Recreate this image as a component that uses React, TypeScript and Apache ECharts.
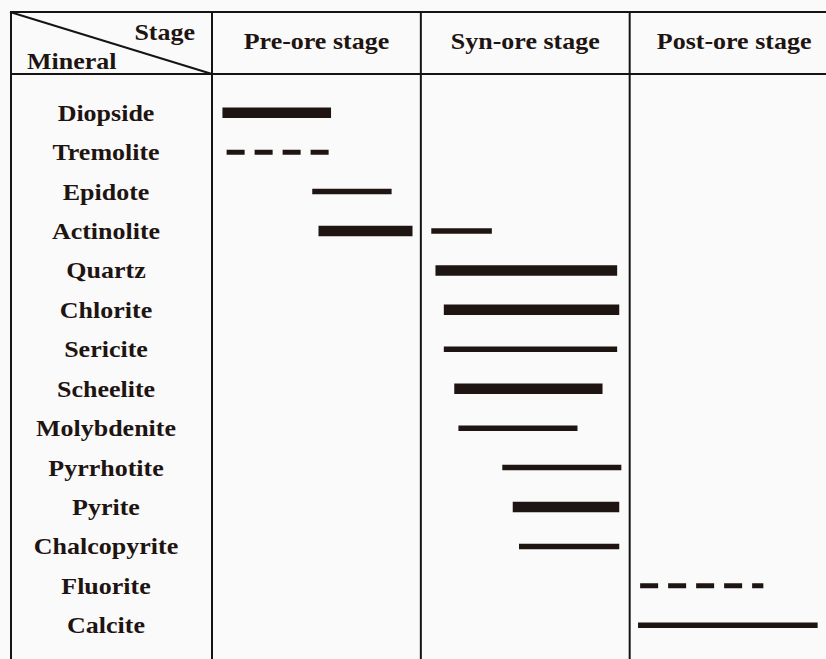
import React, { useEffect, useRef } from 'react';
import * as echarts from 'echarts';

// Minerals in paragenetic order (top to bottom)
const minerals = [
  'Diopside', 'Tremolite', 'Epidote', 'Actinolite', 'Quartz', 'Chlorite', 'Sericite',
  'Scheelite', 'Molybdenite', 'Pyrrhotite', 'Pyrite', 'Chalcopyrite', 'Fluorite', 'Calcite',
];

// Stages; the timeline runs in stage units: 0–1 pre-ore, 1–2 syn-ore, 2–3 post-ore
const stages = ['Pre-ore stage', 'Syn-ore stage', 'Post-ore stage'];

// Occurrence intervals of each mineral on the stage timeline
const spanMineral = [
  'Diopside', 'Tremolite', 'Epidote', 'Actinolite', 'Actinolite', 'Quartz', 'Chlorite',
  'Sericite', 'Scheelite', 'Molybdenite', 'Pyrrhotite', 'Pyrite', 'Chalcopyrite', 'Fluorite', 'Calcite',
];
const spanStart = [0.05, 0.07, 0.48, 0.51, 1.05, 1.07, 1.11, 1.11, 1.16, 1.18, 1.39, 1.44, 1.47, 2.05, 2.04];
const spanEnd = [0.57, 0.56, 0.86, 0.96, 1.34, 1.94, 1.95, 1.94, 1.87, 1.75, 1.96, 1.95, 1.95, 2.64, 2.9];
// abundance: 'major' = thick bar, 'minor' = thin bar, 'trace' = dashed
const spanKind = [
  'major', 'trace', 'minor', 'major', 'minor', 'major', 'major',
  'minor', 'major', 'minor', 'minor', 'major', 'minor', 'trace', 'minor',
];

const INK = '#1e1411';
const LINE = '#141414';
const FONT = 'bold 23px "Liberation Serif", "Times New Roman", serif';
const STRETCH = 1.13;

// Table frame layout
const TABLE_LEFT = 10;
const TABLE_TOP = 12;
const HEADER_BOTTOM = 74;
const HEADER_MID = 41;
const LABEL_OFFSET = 106;
// the post-ore column runs past the right edge of the figure
const VISIBLE_STAGES = 2.94;

const kindStyle: Record<string, { width: number; dash?: number[] }> = {
  major: { width: 10.5 },
  minor: { width: 5.5 },
  trace: { width: 5, dash: [18, 10] },
};

export default function App() {
  const ref = useRef<HTMLDivElement>(null);

  useEffect(() => {
    if (!ref.current) return;
    const chart = echarts.init(ref.current, undefined, { renderer: 'svg' });

    const W = 826;
    const H = 659;

    const option: any = {
      animation: false,
      backgroundColor: '#fafafa',
      grid: { left: 212, right: 0, top: 93, bottom: 14 },
      xAxis: { type: 'value', min: 0, max: VISIBLE_STAGES, show: false },
      yAxis: { type: 'category', data: minerals, inverse: true, show: false },
      graphic: [
        {
          type: 'line',
          shape: { x1: TABLE_LEFT, y1: TABLE_TOP, x2: W, y2: TABLE_TOP },
          style: { stroke: LINE, lineWidth: 2 },
        },
        {
          type: 'line',
          shape: { x1: TABLE_LEFT, y1: HEADER_BOTTOM, x2: W, y2: HEADER_BOTTOM },
          style: { stroke: LINE, lineWidth: 2 },
        },
        {
          type: 'line',
          shape: { x1: TABLE_LEFT + 1, y1: TABLE_TOP - 1, x2: TABLE_LEFT + 1, y2: H },
          style: { stroke: LINE, lineWidth: 2 },
        },
        {
          type: 'line',
          shape: { x1: TABLE_LEFT, y1: TABLE_TOP, x2: 212, y2: HEADER_BOTTOM },
          style: { stroke: LINE, lineWidth: 2 },
        },
        {
          type: 'text',
          x: 195,
          y: 32,
          scaleX: STRETCH,
          style: { text: 'Stage', font: FONT, fill: INK, align: 'right', verticalAlign: 'middle' },
        },
        {
          type: 'text',
          x: 27,
          y: 61,
          scaleX: STRETCH,
          style: { text: 'Mineral', font: FONT, fill: INK, align: 'left', verticalAlign: 'middle' },
        },
      ],
      series: [
        {
          // stage dividers and stage headings
          type: 'custom',
          clip: false,
          silent: true,
          data: stages.map((_, i) => [i]),
          renderItem: (params: any, api: any) => {
            const s = api.value(0);
            const x = api.coord([s, 0])[0];
            const cx = api.coord([s + 0.5, 0])[0];
            return {
              type: 'group',
              children: [
                {
                  type: 'line',
                  shape: { x1: x, y1: TABLE_TOP - 1, x2: x, y2: H },
                  style: { stroke: LINE, lineWidth: 2 },
                },
                {
                  type: 'text',
                  x: cx,
                  y: HEADER_MID,
                  scaleX: STRETCH,
                  style: {
                    text: stages[s],
                    font: FONT,
                    fill: INK,
                    align: 'center',
                    verticalAlign: 'middle',
                  },
                },
              ],
            };
          },
        },
        {
          // mineral names
          type: 'custom',
          clip: false,
          silent: true,
          data: minerals.map((_, i) => [0, i]),
          renderItem: (params: any, api: any) => {
            const i = api.value(1);
            const p = api.coord([0, i]);
            return {
              type: 'text',
              x: p[0] - LABEL_OFFSET,
              y: p[1],
              scaleX: STRETCH,
              style: {
                text: minerals[i],
                font: FONT,
                fill: INK,
                align: 'center',
                verticalAlign: 'middle',
              },
            };
          },
        },
        {
          // occurrence bars
          type: 'custom',
          clip: false,
          silent: true,
          encode: { x: [0, 1], y: 2 },
          data: spanStart.map((s, i) => [s, spanEnd[i], minerals.indexOf(spanMineral[i]), i]),
          renderItem: (params: any, api: any) => {
            const row = api.value(2);
            const k = kindStyle[spanKind[api.value(3)]];
            const a = api.coord([api.value(0), row]);
            const b = api.coord([api.value(1), row]);
            return {
              type: 'line',
              shape: { x1: a[0], y1: a[1], x2: b[0], y2: b[1] },
              style: {
                stroke: INK,
                lineWidth: k.width,
                lineDash: k.dash,
                lineCap: 'butt',
              },
            };
          },
        },
      ],
    };

    chart.setOption(option);
    return () => chart.dispose();
  }, []);

  return (
    <div
      ref={ref}
      style={{ position: 'fixed', left: 0, top: 0, width: 826, height: 659 }}
    />
  );
}
